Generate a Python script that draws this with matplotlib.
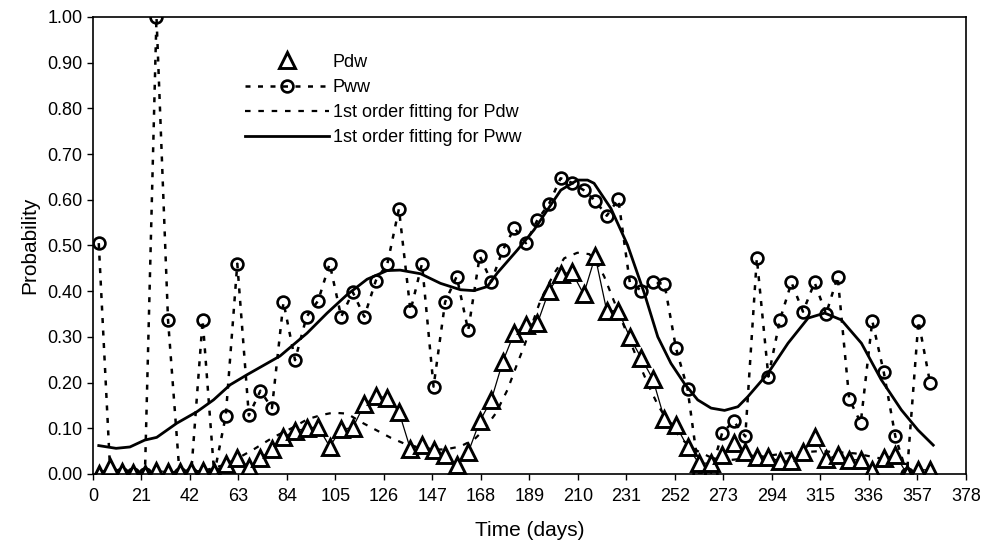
import matplotlib
matplotlib.use("Agg")
import matplotlib.pyplot as plt
from matplotlib.lines import Line2D
import numpy as np

plt.rcParams['font.family'] = ['Liberation Sans', 'DejaVu Sans']

# pentad centres (days)
days = 2.5 + 5 * np.arange(73)

p_dw = [0.000, 0.016, 0.005, 0.003, 0.000, 0.007, 0.005, 0.005, 0.007, 0.007,
        0.005, 0.022, 0.034, 0.016, 0.034, 0.055, 0.081, 0.094, 0.100, 0.103,
        0.060, 0.098, 0.101, 0.152, 0.170, 0.167, 0.136, 0.054, 0.064, 0.052,
        0.042, 0.020, 0.047, 0.115, 0.162, 0.246, 0.309, 0.326, 0.330, 0.401,
        0.438, 0.441, 0.393, 0.476, 0.357, 0.357, 0.299, 0.253, 0.207, 0.120,
        0.106, 0.059, 0.023, 0.024, 0.042, 0.068, 0.047, 0.037, 0.037, 0.028,
        0.028, 0.047, 0.080, 0.032, 0.042, 0.031, 0.031, 0.009, 0.034, 0.042,
        0.000, 0.009, 0.009]

p_ww = [0.505, 0.000, 0.000, 0.000, 0.000, 1.000, 0.337, 0.000, 0.000, 0.337,
        0.000, 0.127, 0.460, 0.128, 0.182, 0.144, 0.376, 0.249, 0.344, 0.379,
        0.460, 0.344, 0.398, 0.344, 0.423, 0.460, 0.580, 0.357, 0.460, 0.191,
        0.376, 0.432, 0.314, 0.477, 0.421, 0.490, 0.538, 0.505, 0.556, 0.591,
        0.647, 0.637, 0.621, 0.598, 0.565, 0.601, 0.419, 0.401, 0.419, 0.416,
        0.275, 0.186, 0.000, 0.000, 0.090, 0.115, 0.082, 0.472, 0.213, 0.337,
        0.419, 0.355, 0.419, 0.350, 0.432, 0.164, 0.112, 0.335, 0.222, 0.082,
        0.000, 0.335, 0.200]

# first order fitted curves
fit_dw_days = [2.5, 20, 40, 50, 57, 63, 70, 78, 86, 93, 99, 104, 110, 117, 123,
               129, 135, 142, 148, 153, 159, 165, 169, 174.5, 179.5, 183.8,
               186.7, 193.9, 199.7, 204.1, 209.8, 214.9, 218, 221.4, 224.3,
               230.1, 235.9, 240.2, 244.6, 250.3, 256.1, 261.9, 268, 275, 285,
               300, 315, 330, 345, 362]
fit_dw = [0.005, 0.000, 0.002, 0.010, 0.020, 0.035, 0.055, 0.080, 0.100, 0.120,
          0.129, 0.134, 0.132, 0.111, 0.095, 0.079, 0.066, 0.057, 0.053, 0.054,
          0.060, 0.075, 0.095, 0.133, 0.184, 0.242, 0.279, 0.381, 0.439, 0.472,
          0.484, 0.481, 0.465, 0.432, 0.395, 0.322, 0.249, 0.198, 0.151, 0.104,
          0.071, 0.050, 0.035, 0.030, 0.035, 0.045, 0.050, 0.045, 0.030, 0.010]

fit_ww_days = [2.5, 10, 16, 22.4, 27.6, 36.3, 45, 52.2, 59.4, 66.7, 81, 92.7,
               101.4, 110, 118.7, 127.4, 133, 141.9, 150.5, 159.2, 165, 170.8,
               175, 183.8, 191, 202.6, 209.8, 214.2, 217, 224.3, 231.5, 238.8,
               244.6, 250.3, 256.1, 261.9, 267.7, 273.5, 279.3, 283.6, 292.3,
               301, 309.7, 316.9, 324.1, 332.8, 341.4, 350.1, 357.3, 363.9]
fit_ww = [0.062, 0.056, 0.059, 0.074, 0.080, 0.111, 0.136, 0.162, 0.195, 0.217,
          0.258, 0.308, 0.352, 0.392, 0.426, 0.445, 0.446, 0.438, 0.417, 0.403,
          0.401, 0.410, 0.439, 0.490, 0.534, 0.621, 0.643, 0.643, 0.636, 0.581,
          0.501, 0.395, 0.300, 0.242, 0.198, 0.162, 0.144, 0.139, 0.147, 0.169,
          0.220, 0.286, 0.341, 0.352, 0.337, 0.286, 0.206, 0.140, 0.096, 0.063]

fig = plt.figure(figsize=(9.84, 5.46), dpi=100)
ax = fig.add_axes([0.0945, 0.132, 0.887, 0.837])

ax.plot(fit_dw_days, fit_dw, color='black', lw=1.6, ls=(0, (2.5, 3.5)))
ax.plot(fit_ww_days, fit_ww, color='black', lw=2.0, ls='-')
ax.plot(days, p_ww, color='black', lw=1.8, ls=(0, (2, 3)),
        marker='o', ms=8.5, mfc='none', mec='black', mew=1.9)
ax.plot(days, p_dw, color='black', lw=0.9, ls='-',
        marker='^', ms=11, mfc='white', mec='black', mew=2.1)

ax.set_xlim(0, 378)
ax.set_ylim(0, 1.0)
ax.set_xticks(np.arange(0, 379, 21))
ax.set_yticks(np.arange(0, 1.01, 0.1))
ax.set_yticklabels([f"{v:.2f}" for v in np.arange(0, 1.01, 0.1)])
ax.tick_params(labelsize=13, direction='out', length=4, width=1, colors='black')
ax.tick_params(axis='x', pad=6)
for s in ax.spines.values():
    s.set_linewidth(1.2)
    s.set_color('black')

ax.set_xlabel("Time (days)", fontsize=15, labelpad=12)
ax.set_ylabel("Probability", fontsize=15, labelpad=6)

handles = [
    Line2D([], [], ls='none', marker='^', ms=11, mfc='white', mec='black', mew=2.1),
    Line2D([], [], color='black', lw=1.8, ls=(0, (2, 3)), marker='o', ms=8.5,
           mfc='none', mec='black', mew=1.9),
    Line2D([], [], color='black', lw=1.6, ls=(0, (2.5, 3.5))),
    Line2D([], [], color='black', lw=2.0, ls='-'),
]
labels = ["Pdw", "Pww", "1st order fitting for Pdw", "1st order fitting for Pww"]
ax.legend(handles, labels, loc='upper left', bbox_to_anchor=(0.155, 0.955),
          frameon=False, fontsize=13, handlelength=4.7, handletextpad=0.2,
          labelspacing=0.45)

fig.savefig("out.png", dpi=100)
